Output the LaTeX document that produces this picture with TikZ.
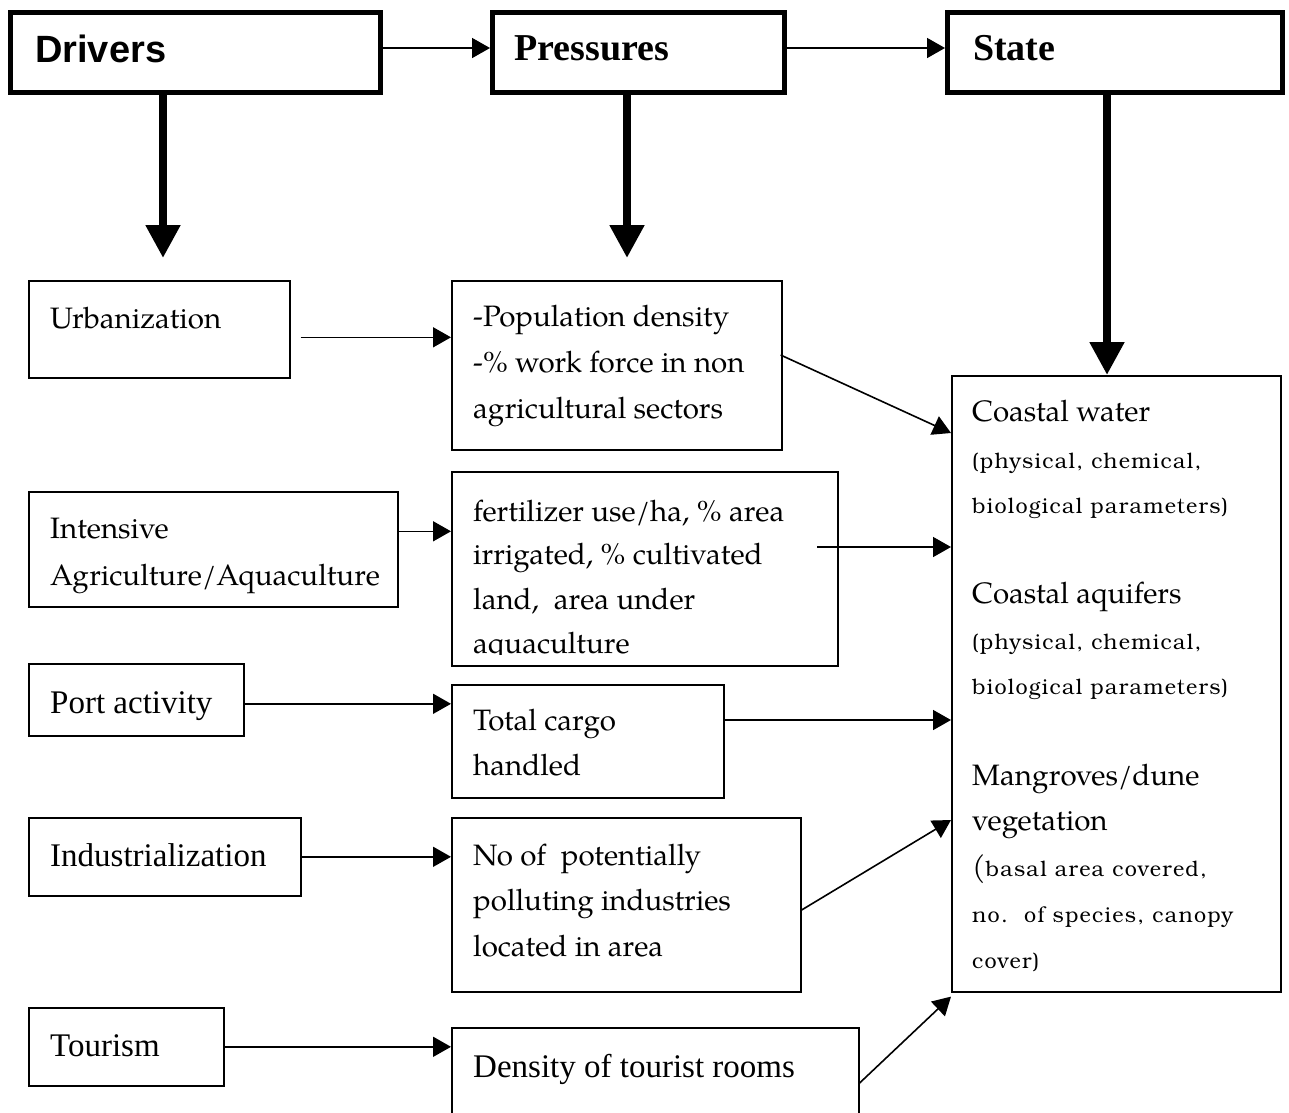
\documentclass[tikz,border=0pt]{standalone}
\usepackage{fontspec}
\usetikzlibrary{arrows.meta,calc}
\setmainfont{texgyrepagella}[Extension=.otf, UprightFont=*-regular, BoldFont=*-bold]
\newfontfamily\timesf{Liberation Serif}
\newfontfamily\arialf{Liberation Sans}
\newfontfamily\smallf{texgyrebonum}[Extension=.otf, UprightFont=*-regular, LetterSpace=6]
\begin{document}
\begin{tikzpicture}[x=1pt,y=-1pt,
  thinbox/.style={draw, line width=1.6pt, inner sep=0pt, anchor=north west},
  thickbox/.style={draw, line width=5pt, inner sep=0pt, anchor=north west},
  txt/.style={anchor=base west, inner sep=0pt, font=\fontsize{29.5}{35}\selectfont},
  ttxt/.style={anchor=base west, inner sep=0pt, font=\timesf\fontsize{33}{38}\selectfont},
  stxt/.style={anchor=base west, inner sep=0pt, font=\smallf\fontsize{21.5}{24}\selectfont},
  thinarrow/.style={line width=1.6pt, -{Triangle[length=18pt,width=20pt]}},
  bigarrow/.style={line width=8pt, -{Triangle[length=33pt,width=33pt]}}]
\useasboundingbox (0,0) rectangle (1289,1112);
\fill[white] (0,0) rectangle (1289,1112);
\clip (0,0) rectangle (1289,1112);

% top row
\node[thickbox, minimum width=370pt, minimum height=80pt] (drv) at (8,10) {};
\node[thickbox, minimum width=292pt, minimum height=80pt] (pres) at (490,10) {};
\node[thickbox, minimum width=335pt, minimum height=80pt] (stt) at (945,10) {};
\node[anchor=base west, inner sep=0pt, font=\arialf\bfseries\fontsize{38}{40}\selectfont] (tdrv) at (35,62) {Drivers};
\node[anchor=base west, inner sep=0pt, font=\timesf\bfseries\fontsize{38}{40}\selectfont] (tpres) at (514,60) {Pressures};
\node[anchor=base west, inner sep=0pt, font=\timesf\bfseries\fontsize{38}{40}\selectfont] (tstt) at (973,60) {State};

\coordinate (ty) at (0,48);
\draw[thinarrow] (drv.east |- ty) -- (pres.west |- ty);
\draw[thinarrow] (pres.east |- ty) -- (stt.west |- ty);

\coordinate (dtip) at (163,258);
\coordinate (ptip) at (627,258);
\coordinate (sx) at (1107,0);

% left column
\node[thinbox, minimum width=261pt, minimum height=97pt] (urb) at (28,280) {};
\node[txt] (turb) at (50,328) {Urbanization};
\node[thinbox, minimum width=369pt, minimum height=115pt] (int) at (28,491) {};
\node[txt] (tint1) at (50,538) {Intensive};
\node[txt] (tint2) at (50,585) {Agriculture/Aquaculture};
\node[thinbox, minimum width=215pt, minimum height=72pt] (port) at (28,663) {};
\node[ttxt] (tport) at (50,713) {Port activity};
\node[thinbox, minimum width=272pt, minimum height=78pt] (ind) at (28,817) {};
\node[ttxt] (tind) at (50,866) {Industrialization};
\node[thinbox, minimum width=195pt, minimum height=78pt] (tour) at (28,1007) {};
\node[ttxt] (ttour) at (50,1056) {Tourism};

% middle column
\node[thinbox, minimum width=330pt, minimum height=169pt] (pop) at (451,280) {};
\node[txt] (tpop1) at (473,326) {-Population density};
\node[txt] (tpop2) at (473,372) {-\% work force in non};
\node[txt] (tpop3) at (473,418) {agricultural sectors};
\node[thinbox, minimum width=386pt, minimum height=194pt] (fert) at (451,471) {};
\begin{scope}
\clip (fert.north west) rectangle ($(fert.south east)+(0,-12)$);
\node[txt] (tf1) at (473,521) {fertilizer use/ha, \% area};
\node[txt] (tf2) at (473,564) {irrigated, \% cultivated};
\node[txt] (tf3) at (473,609) {land,\ \ area under};
\node[txt] (tf4) at (473,653) {aquaculture};
\end{scope}
\node[thinbox, minimum width=272pt, minimum height=113pt] (cargo) at (451,684) {};
\node[txt] (tc1) at (473,730) {Total cargo};
\node[txt] (tc2) at (473,775) {handled};
\node[thinbox, minimum width=349pt, minimum height=174pt] (nof) at (451,817) {};
\node[txt] (tn1) at (473,865) {No of\ \ potentially};
\node[txt] (tn2) at (473,910) {polluting industries};
\node[txt] (tn3) at (473,956) {located in area};
\node[thinbox, minimum width=407pt, minimum height=130pt] (dens) at (451,1027) {};
\node[ttxt] (td) at (473,1077) {Density of tourist rooms};

% state box
\node[thinbox, minimum width=329pt, minimum height=616pt] (sbox) at (951,375) {};
\node[txt] (s1) at (972,421) {Coastal water};
\node[stxt] (s2) at (972,468) {(physical, chemical,};
\node[stxt] (s3) at (972,513) {biological parameters)};
\node[txt] (s4) at (972,603) {Coastal aquifers};
\node[stxt] (s5) at (972,649) {(physical, chemical,};
\node[stxt] (s6) at (972,694) {biological parameters)};
\node[txt] (s7) at (972,785) {Mangroves/dune};
\node[txt] (s8) at (972,830) {vegetation};
\node[stxt] (s9) at (972,876) {{\normalfont\fontsize{29.5}{35}\selectfont(}basal area covered,};
\node[stxt] (s10) at (972,922) {no.\ \ of species, canopy};
\node[stxt] (s11) at (972,968) {cover)};

% thick arrows
\draw[bigarrow] (drv.south -| dtip) -- (dtip);
\draw[bigarrow] (pres.south -| ptip) -- (ptip);
\draw[bigarrow] (stt.south -| sx) -- (sbox.north -| sx);

% driver -> pressure arrows
\coordinate (a1) at ([xshift=10pt,yshift=-8pt]urb.east);
\draw[thinarrow] (a1) -- (a1 -| pop.west);
\coordinate (a2) at ([yshift=18pt]int.east);
\draw[thinarrow] (a2) -- (a2 -| fert.west);
\coordinate (a3) at ([yshift=-4pt]port.east);
\draw[thinarrow] (a3) -- (a3 -| cargo.west);
\draw[thinarrow] (ind.east) -- (ind.east -| nof.west);
\draw[thinarrow] (tour.east) -- (tour.east -| dens.west);

% pressure -> state arrows
\draw[thinarrow] ($(pop.north east)+(-2,75)$) -- ($(sbox.north west)+(0,58)$);
\coordinate (b2) at ($(fert.north west)+(366,76)$);
\draw[thinarrow] (b2) -- (b2 -| sbox.west);
\coordinate (b3) at ($(cargo.north east)+(0,36)$);
\draw[thinarrow] (b3) -- (b3 -| sbox.west);
\draw[thinarrow] ($(nof.north east)+(0,93)$) -- ($(sbox.north west)+(0,445)$);
\draw[thinarrow] ($(dens.north east)+(0,56)$) -- ($(sbox.south west)+(0,4)$);
\end{tikzpicture}
\end{document}
